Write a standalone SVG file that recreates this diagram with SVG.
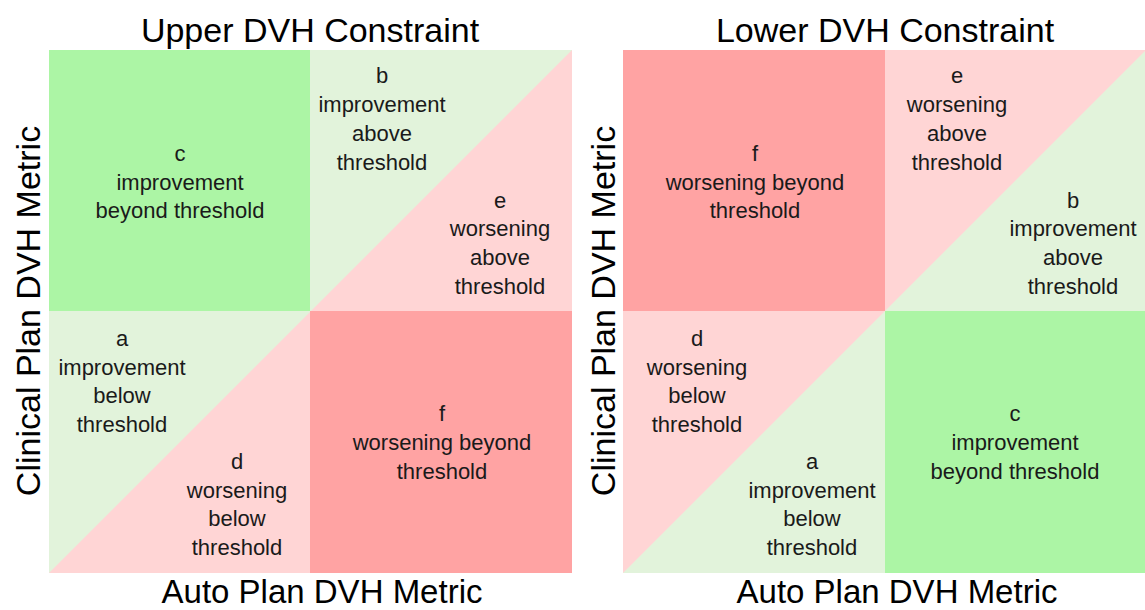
<svg xmlns="http://www.w3.org/2000/svg" width="1145" height="610" viewBox="0 0 1145 610">
<style>
.t{font-family:"Liberation Sans",Arial,sans-serif;font-size:34px;fill:#000;text-anchor:middle}
.b{font-size:33px}
.l{font-family:"Liberation Sans",Arial,sans-serif;font-size:22px;fill:#1a1a1a;text-anchor:middle}
.g1{fill:#ACF5A5}.g2{fill:#E2F3DB}.p1{fill:#FFD5D5}.r1{fill:#FFA3A3}
</style>
<rect width="1145" height="610" fill="#fff"/>
<g id="upper-panel">
<rect class="p1" x="49" y="50" width="523" height="523"/>
<polygon class="g2" points="49,50 572,50 49,573"/>
<rect class="g1" x="49" y="50" width="261" height="261"/>
<rect class="r1" x="310" y="311" width="262" height="262"/>
</g>
<g id="lower-panel">
<rect class="g2" x="623" y="50" width="523" height="523"/>
<polygon class="p1" points="623,50 1146,50 623,573"/>
<rect class="r1" x="623" y="50" width="262" height="261"/>
<rect class="g1" x="885" y="311" width="261" height="262"/>
</g>
<g id="titles">
<text class="t" x="310" y="42">Upper DVH Constraint</text>
<text class="t" x="885" y="42">Lower DVH Constraint</text>
<text class="t b" x="322" y="603">Auto Plan DVH Metric</text>
<text class="t b" x="897" y="603">Auto Plan DVH Metric</text>
<text class="t" transform="translate(40,311) rotate(-90)">Clinical Plan DVH Metric</text>
<text class="t" transform="translate(615,311) rotate(-90)">Clinical Plan DVH Metric</text>
</g>
<g id="u-c"><text class="l" x="180" y="161">c</text><text class="l" x="180" y="190">improvement</text><text class="l" x="180" y="218">beyond threshold</text></g>
<g id="u-b"><text class="l" x="382" y="83">b</text><text class="l" x="382" y="112">improvement</text><text class="l" x="382" y="141">above</text><text class="l" x="382" y="170">threshold</text></g>
<g id="u-e"><text class="l" x="500" y="208">e</text><text class="l" x="500" y="236">worsening</text><text class="l" x="500" y="265">above</text><text class="l" x="500" y="294">threshold</text></g>
<g id="u-a"><text class="l" x="122" y="346">a</text><text class="l" x="122" y="375">improvement</text><text class="l" x="122" y="403">below</text><text class="l" x="122" y="432">threshold</text></g>
<g id="u-d"><text class="l" x="237" y="469">d</text><text class="l" x="237" y="498">worsening</text><text class="l" x="237" y="526">below</text><text class="l" x="237" y="555">threshold</text></g>
<g id="u-f"><text class="l" x="442" y="421">f</text><text class="l" x="442" y="450">worsening beyond</text><text class="l" x="442" y="479">threshold</text></g>
<g id="l-f"><text class="l" x="755" y="161">f</text><text class="l" x="755" y="190">worsening beyond</text><text class="l" x="755" y="218">threshold</text></g>
<g id="l-e"><text class="l" x="957" y="83">e</text><text class="l" x="957" y="112">worsening</text><text class="l" x="957" y="141">above</text><text class="l" x="957" y="170">threshold</text></g>
<g id="l-b"><text class="l" x="1073" y="208">b</text><text class="l" x="1073" y="236">improvement</text><text class="l" x="1073" y="265">above</text><text class="l" x="1073" y="294">threshold</text></g>
<g id="l-d"><text class="l" x="697" y="346">d</text><text class="l" x="697" y="375">worsening</text><text class="l" x="697" y="403">below</text><text class="l" x="697" y="432">threshold</text></g>
<g id="l-a"><text class="l" x="812" y="469">a</text><text class="l" x="812" y="498">improvement</text><text class="l" x="812" y="526">below</text><text class="l" x="812" y="555">threshold</text></g>
<g id="l-c"><text class="l" x="1015" y="421">c</text><text class="l" x="1015" y="450">improvement</text><text class="l" x="1015" y="479">beyond threshold</text></g>
<g id="connectors"/>
</svg>
